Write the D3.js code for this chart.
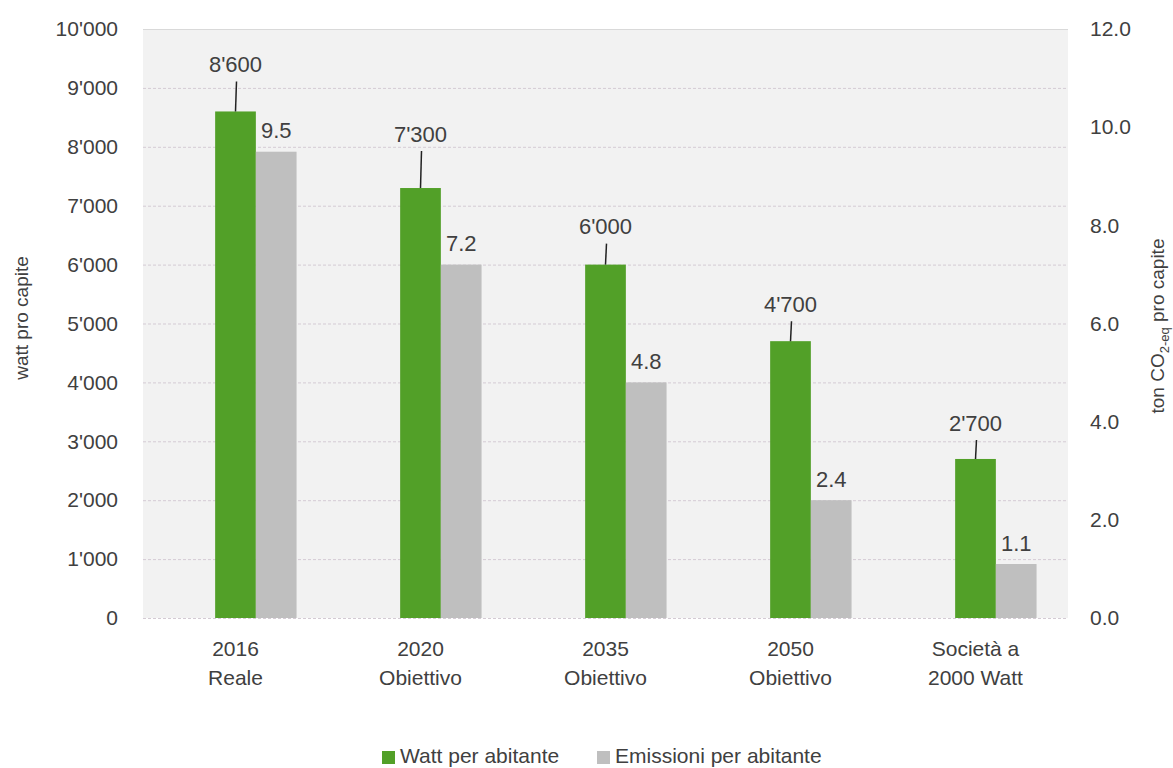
<!DOCTYPE html>
<html>
<head>
<meta charset="utf-8">
<script src="https://cdn.jsdelivr.net/npm/d3@7"></script>
<style>
  body { margin: 0; background: #fff; }
  text { font-family: "Liberation Sans Narrow", "Arial Narrow", "Liberation Sans", sans-serif; fill: #404040; }
</style>
</head>
<body>
<script>
// data
var categories = [["2016", "Reale"], ["2020", "Obiettivo"], ["2035", "Obiettivo"], ["2050", "Obiettivo"], ["Società a", "2000 Watt"]];
var watt = [8600, 7300, 6000, 4700, 2700];
var emissioni = [9.5, 7.2, 4.8, 2.4, 1.1];
var leftTicks = [0, 1000, 2000, 3000, 4000, 5000, 6000, 7000, 8000, 9000, 10000];
var rightTicks = [0, 2, 4, 6, 8, 10, 12];
var seriesNames = ["Watt per abitante", "Emissioni per abitante"];
// how far above the bar the watt labels sit (px), as in the original
var wattLabelLift = [47, 54, 38, 37, 36];

var width = 1173, height = 768;
var plotL = 143, plotR = 1068, plotT = 29, plotB = 618;
var green = "#52a028", grey = "#bfbfbf";

var svg = d3.select("body").append("svg")
    .attr("width", width)
    .attr("height", height);

var x = d3.scaleBand()
    .domain(d3.range(categories.length))
    .range([plotL, plotR]);

var yL = d3.scaleLinear().domain([0, 10000]).range([plotB, plotT]);
var yR = d3.scaleLinear().domain([0, 12]).range([plotB, plotT]);

var barW = x.bandwidth() * 0.22;
var fmt = function(v) { return d3.format(",")(v).replace(/,/g, "'"); };

// plot background
svg.append("rect")
    .attr("x", plotL).attr("y", plotT)
    .attr("width", plotR - plotL).attr("height", plotB - plotT)
    .attr("fill", "#f2f2f2");

// gridlines
svg.append("g").selectAll("line")
    .data(leftTicks)
    .enter().append("line")
    .attr("x1", plotL).attr("x2", plotR)
    .attr("y1", function(d) { return yL(d) + 0.5; })
    .attr("y2", function(d) { return yL(d) + 0.5; })
    .attr("stroke", function(d) { return d == 10000 ? "#d9d9d9" : "#d4cbd4"; })
    .attr("stroke-width", 1)
    .attr("stroke-dasharray", function(d) { return d == 10000 ? null : "3,2"; });

// left axis
var axL = svg.append("g")
    .attr("transform", "translate(" + (plotL - 25) + ",0)")
    .call(d3.axisLeft(yL).tickValues(leftTicks).tickFormat(fmt).tickSize(0).tickPadding(0));
axL.select(".domain").remove();
axL.selectAll("text").style("font-size", "21px").style("fill", "#404040")
    .style("font-family", "'Liberation Sans Narrow', 'Liberation Sans', sans-serif");

// right axis
var axR = svg.append("g")
    .attr("transform", "translate(" + (plotR + 22) + ",0)")
    .call(d3.axisRight(yR).tickValues(rightTicks).tickFormat(d3.format(".1f")).tickSize(0).tickPadding(0));
axR.select(".domain").remove();
axR.selectAll("text").style("font-size", "21px").style("fill", "#404040")
    .style("font-family", "'Liberation Sans Narrow', 'Liberation Sans', sans-serif");

// bars
var g = svg.append("g");
g.selectAll(".watt")
    .data(watt)
    .enter().append("rect")
    .attr("class", "watt")
    .attr("x", function(d, i) { return x(i) + x.bandwidth() / 2 - barW / 2; })
    .attr("y", function(d) { return yL(d); })
    .attr("width", barW)
    .attr("height", function(d) { return plotB - yL(d); })
    .attr("fill", green);

g.selectAll(".emi")
    .data(emissioni)
    .enter().append("rect")
    .attr("class", "emi")
    .attr("x", function(d, i) { return x(i) + x.bandwidth() / 2 + barW / 2; })
    .attr("y", function(d) { return yR(d); })
    .attr("width", barW)
    .attr("height", function(d) { return plotB - yR(d); })
    .attr("fill", grey);

// watt labels with leader lines
watt.forEach(function(d, i) {
    var cx = x(i) + x.bandwidth() / 2;
    var ty = yL(d) - wattLabelLift[i];
    svg.append("line")
        .attr("x1", cx + 1).attr("x2", cx)
        .attr("y1", ty + 17).attr("y2", yL(d))
        .attr("stroke", "#222").attr("stroke-width", 1.5);
    svg.append("text")
        .attr("x", cx).attr("y", ty)
        .attr("dy", "0.35em")
        .attr("text-anchor", "middle")
        .style("font-size", "22px")
        .text(fmt(d));
});

// emission labels
svg.selectAll(".emiLabel")
    .data(emissioni)
    .enter().append("text")
    .attr("x", function(d, i) { return x(i) + x.bandwidth() / 2 + barW; })
    .attr("y", function(d) { return yR(d) - 21; })
    .attr("dy", "0.35em")
    .attr("text-anchor", "middle")
    .style("font-size", "22px")
    .text(function(d) { return d.toFixed(1); });

// category labels
categories.forEach(function(c, i) {
    var t = svg.append("text")
        .attr("x", x(i) + x.bandwidth() / 2)
        .attr("y", 649)
        .attr("text-anchor", "middle")
        .style("font-size", "21px");
    c.forEach(function(s, j) {
        t.append("tspan")
            .attr("x", x(i) + x.bandwidth() / 2)
            .attr("dy", j == 0 ? "0.35em" : "29")
            .text(s);
    });
});

// axis titles
svg.append("text")
    .attr("transform", "translate(21,318) rotate(-90)")
    .attr("text-anchor", "middle")
    .attr("dy", "0.35em")
    .style("font-size", "19px")
    .text("watt pro capite");

var rt = svg.append("text")
    .attr("transform", "translate(1157,326) rotate(-90)")
    .attr("text-anchor", "middle")
    .attr("dy", "0.35em")
    .style("font-size", "19px");
rt.append("tspan").text("ton CO");
rt.append("tspan").attr("dy", 5).style("font-size", "13px").text("2-eq");
rt.append("tspan").attr("dy", -5).text(" pro capite");

// legend
var legend = svg.append("g");
var legendX = [382, 597];
seriesNames.forEach(function(name, i) {
    legend.append("rect")
        .attr("x", legendX[i]).attr("y", 751)
        .attr("width", 13).attr("height", 13)
        .attr("fill", i == 0 ? green : grey);
    legend.append("text")
        .attr("x", legendX[i] + 18).attr("y", 756)
        .attr("dy", "0.35em")
        .style("font-size", "21px")
        .text(name);
});
</script>
</body>
</html>
